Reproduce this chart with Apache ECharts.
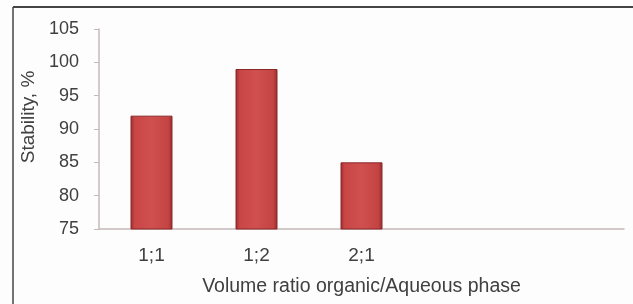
<!DOCTYPE html>
<html>
<head>
<meta charset="utf-8">
<script src="https://cdn.jsdelivr.net/npm/echarts@6/dist/echarts.min.js"></script>
<style>
    html, body { margin: 0; padding: 0; background: #fdfdfd; }
    #chart { width: 633px; height: 304px; }
</style>
</head>
<body>
<div id="chart"></div>
<script>
// volume ratio categories (last two slots are empty in the original)
const ratios = ['1;1', '1;2', '2;1', '', ''];
const stability = [92, 99, 85, null, null];
const yTicks = { min: 75, max: 105, step: 5 };

const textColor = '#404040';
const axisColor = '#c4b8b8';

const chart = echarts.init(document.getElementById('chart'));

const barFill = new echarts.graphic.LinearGradient(0, 0, 1, 0, [
    { offset: 0, color: '#9c2d2d' },
    { offset: 0.1, color: '#c94646' },
    { offset: 0.5, color: '#d04f4f' },
    { offset: 0.9, color: '#c44444' },
    { offset: 1, color: '#962a2a' }
]);

chart.setOption({
    backgroundColor: '#fdfdfd',
    animation: false,
    textStyle: { fontFamily: 'Liberation Sans, Arial, sans-serif' },
    grid: { left: 99, right: 9, top: 29, bottom: 75 },
    xAxis: {
        type: 'category',
        data: ratios,
        name: 'Volume ratio organic/Aqueous phase',
        nameLocation: 'middle',
        nameGap: 48,
        nameTextStyle: { fontSize: 19.5, color: textColor },
        axisLine: { lineStyle: { color: axisColor, width: 1.5 } },
        axisTick: { alignWithLabel: false, length: 4, lineStyle: { color: axisColor } },
        axisLabel: { fontSize: 19, color: textColor, margin: 17 }
    },
    yAxis: {
        type: 'value',
        min: yTicks.min,
        max: yTicks.max,
        interval: yTicks.step,
        name: 'Stability, %',
        nameLocation: 'middle',
        nameGap: 59,
        nameTextStyle: { fontSize: 19, color: textColor, padding: [0, 0, 0, 24] },
        axisLine: { show: true, lineStyle: { color: axisColor, width: 1.5 } },
        axisTick: { show: true, length: 5, lineStyle: { color: axisColor } },
        axisLabel: { fontSize: 18, color: textColor, margin: 20 },
        splitLine: { show: false }
    },
    series: [{
        type: 'bar',
        data: stability,
        barWidth: '40%',
        itemStyle: {
            color: barFill,
            borderColor: '#8a2828',
            borderWidth: 1
        }
    }],
    graphic: [
        { type: 'line', shape: { x1: 13, y1: 7, x2: 633, y2: 7 }, style: { stroke: '#444', lineWidth: 2 } },
        { type: 'line', shape: { x1: 13, y1: 7, x2: 13, y2: 304 }, style: { stroke: '#444', lineWidth: 1.5 } }
    ]
});
</script>
</body>
</html>
